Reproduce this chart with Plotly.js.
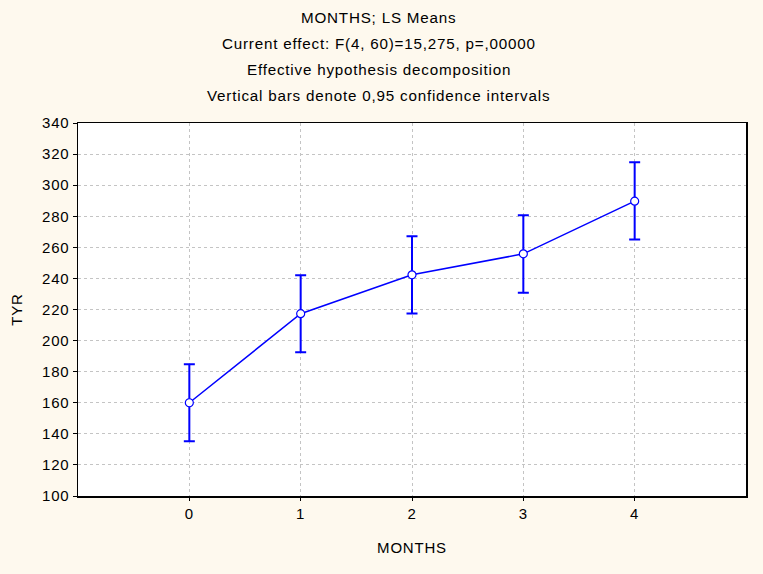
<!DOCTYPE html>
<html>
<head>
<meta charset="utf-8">
<script src="https://cdn.plot.ly/plotly-3.0.1.min.js"></script>
<style>
html,body{margin:0;padding:0;background:#fef9ee;}
#chart{width:763px;height:574px;}
svg text{letter-spacing:0.8px;}
</style>
</head>
<body>
<div id="chart"></div>
<script>
const months = [0, 1, 2, 3, 4];
const lsMeans = [160.0, 217.3, 242.3, 255.8, 289.7];
const ciUpper = [184.8, 242.1, 267.2, 280.7, 314.7];
const ciLower = [135.2, 192.5, 217.4, 230.8, 265.0];
const titleLines = [
  "MONTHS; LS Means",
  "Current effect: F(4, 60)=15,275, p=,00000",
  "Effective hypothesis decomposition",
  "Vertical bars denote 0,95 confidence intervals"
];
const xTitle = "MONTHS";
const yTitle = "TYR";

const errPlus = lsMeans.map((v, i) => ciUpper[i] - v);
const errMinus = lsMeans.map((v, i) => v - ciLower[i]);

const blue = "#0000ff";
const font = {family: "Liberation Sans, Arial, sans-serif", size: 15, color: "#000"};

const trace = {
  x: months, y: lsMeans, type: "scatter", mode: "lines+markers",
  line: {color: blue, width: 1.5},
  marker: {symbol: "circle", size: 8, color: "#ffffff", line: {color: blue, width: 1.2}},
  error_y: {type: "data", symmetric: false, array: errPlus, arrayminus: errMinus,
            color: blue, thickness: 2, width: 5.5},
  hoverinfo: "x+y", showlegend: false
};

const shifts = [106, 80, 54, 28];
const annotations = titleLines.map((t, i) => ({
  text: t, xref: "paper", yref: "paper", x: 0.45, y: 1, xanchor: "center", yanchor: "middle",
  yshift: shifts[i], showarrow: false, font: {family: font.family, size: 15.2, color: "#000"}
}));

const layout = {
  width: 763, height: 574,
  paper_bgcolor: "#fef9ee", plot_bgcolor: "#ffffff",
  margin: {l: 78, r: 17, t: 123, b: 78},
  font: font, showlegend: false,
  annotations: annotations,
  xaxis: {
    range: [-1, 5], tickvals: months, ticktext: months.map(String),
    showline: true, linecolor: "#000", linewidth: 1.5, mirror: true,
    ticks: "outside", ticklen: 3, tickcolor: "#000", tickwidth: 1,
    showgrid: true, gridcolor: "#c4c4c4", griddash: "dot", gridwidth: 1, zeroline: false,
    tickfont: font,
    title: {text: xTitle, font: font, standoff: 22}
  },
  yaxis: {
    range: [100, 340], dtick: 20, tick0: 100,
    showline: true, linecolor: "#000", linewidth: 1.5, mirror: true,
    ticks: "outside", ticklen: 4, tickcolor: "#000", tickwidth: 1,
    showgrid: true, gridcolor: "#c4c4c4", griddash: "dot", gridwidth: 1, zeroline: false,
    tickfont: font,
    title: {text: yTitle, font: font, standoff: 16}
  },
  xaxis2: {
    overlaying: "x", side: "top", anchor: "y", range: [-1, 5], tickvals: months,
    ticks: "inside", ticklen: 5, tickcolor: "#000", showticklabels: false,
    showgrid: false, zeroline: false, showline: false
  },
  yaxis2: {
    overlaying: "y", side: "right", anchor: "x", range: [100, 340], dtick: 20, tick0: 100,
    ticks: "inside", ticklen: 5, tickcolor: "#000", showticklabels: false,
    showgrid: false, zeroline: false, showline: false
  }
};

Plotly.newPlot("chart", [trace], layout, {displayModeBar: false, staticPlot: true});
</script>
</body>
</html>
